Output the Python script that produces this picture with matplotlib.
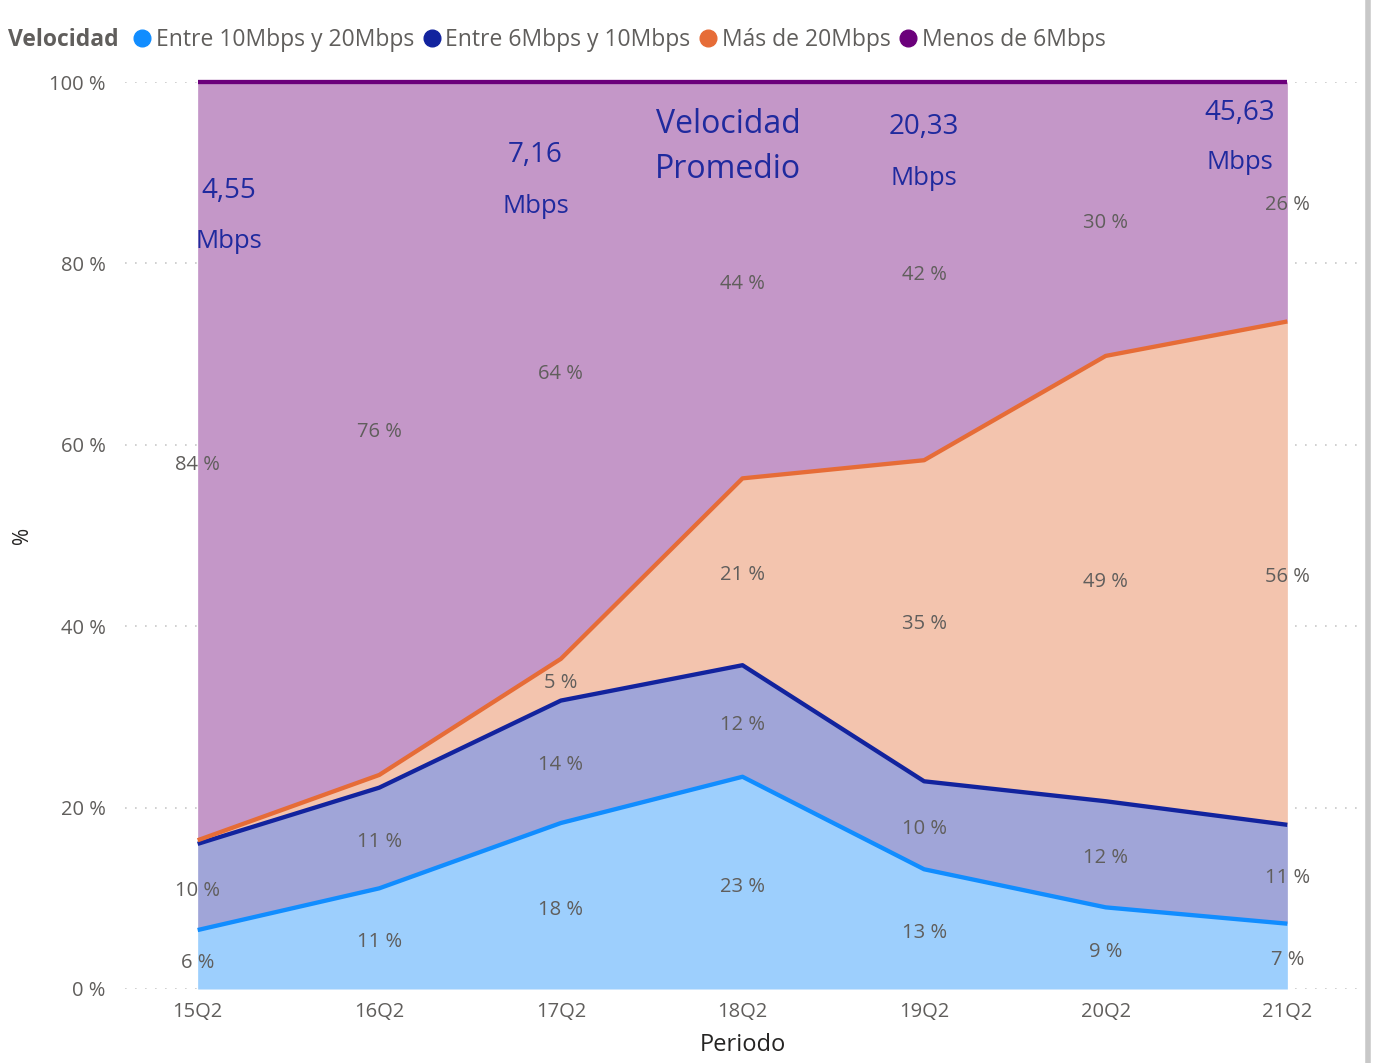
import numpy as np
import matplotlib.pyplot as plt
from matplotlib.lines import Line2D

# data (percent of connections per speed band)
periods = ["15Q2", "16Q2", "17Q2", "18Q2", "19Q2", "20Q2", "21Q2"]
entre_10_20 = [6.5, 11.1, 18.3, 23.4, 13.2, 9.0, 7.2]
entre_6_10 = [9.5, 11.1, 13.5, 12.3, 9.7, 11.7, 10.9]
mas_de_20 = [0.4, 1.4, 4.6, 20.6, 35.4, 49.1, 55.5]
menos_de_6 = [83.6, 76.4, 63.6, 43.7, 41.7, 30.2, 26.4]

series_names = ["Entre 10Mbps y 20Mbps", "Entre 6Mbps y 10Mbps", "Más de 20Mbps", "Menos de 6Mbps"]
line_colors = ["#118DFF", "#12239E", "#E66C37", "#6B007B"]
fill_colors = ["#9DCFFD", "#A0A5D8", "#F3C4AE", "#C497C8"]

# average speed notes (free text boxes on the original report)
speed_values = ["4,55", "7,16", "20,33", "45,63"]
speed_pos = [(0.17, 88.0, 82.4), (1.86, 92.0, 86.3), (4.0, 95.0, 89.4), (5.74, 96.6, 91.1)]

plt.rcParams['font.family'] = ['Open Sans', 'DejaVu Sans']

fig = plt.figure(figsize=(13.73, 10.63), dpi=100)
ax = fig.add_axes([125 / 1373, 1 - 989 / 1063, (1360 - 125) / 1373, (989 - 82) / 1063])

x = np.arange(len(periods))
stack = [entre_10_20, entre_6_10, mas_de_20, menos_de_6]
bottom = np.zeros(len(periods))
for vals, lc, fc in zip(stack, line_colors, fill_colors):
    vals = np.array(vals)
    top = bottom + vals
    ax.fill_between(x, bottom, top, color=fc, linewidth=0, zorder=2)
    bottom = top

bottom = np.zeros(len(periods))
for vals, lc in zip(stack, line_colors):
    top = bottom + np.array(vals)
    ax.plot(x, top, color=lc, linewidth=3.1, solid_capstyle='butt', zorder=3, clip_on=False)
    bottom = top

# data labels in the middle of each band
bottom = np.zeros(len(periods))
for vals in stack:
    vals = np.array(vals)
    for i, v in enumerate(vals):
        if v >= 3:
            ax.text(x[i], bottom[i] + v / 2 - 0.4, f"{round(v):.0f} %", ha='center', va='center',
                    fontsize=14.5, color='#605E5C', zorder=4)
    bottom = bottom + vals

# speed annotations
for val, (px, y1, y2) in zip(speed_values, speed_pos):
    ax.text(px, y1, val, ha='center', va='center', fontsize=20, color='#1F2A9E',
            fontweight='medium', zorder=5)
    ax.text(px, y2, "Mbps", ha='center', va='center', fontsize=18.5, color='#1F2A9E', zorder=5)
ax.text(2.92, 95.3, "Velocidad", ha='center', va='center', fontsize=23, color='#1F2A9E', zorder=5)
ax.text(2.92, 90.3, "Promedio", ha='center', va='center', fontsize=23, color='#1F2A9E', zorder=5)

ax.set_xlim(-0.4, 6.4)
ax.set_ylim(0, 100)
ax.set_xticks(x)
ax.set_xticklabels(periods)
ax.set_yticks([0, 20, 40, 60, 80, 100])
ax.set_yticklabels(["0 %", "20 %", "40 %", "60 %", "80 %", "100 %"])
ax.tick_params(length=0, labelsize=14.5, colors='#605E5C', pad=14)
ax.tick_params(axis='x', pad=9)
for s in ax.spines.values():
    s.set_visible(False)
ax.grid(axis='y', linestyle=(0, (1, 5)), color='#C8C8C8', linewidth=1.2, zorder=1)
ax.set_axisbelow(True)

ax.set_xlabel("Periodo", fontsize=17, color='#252423', labelpad=8)
fig.text(22 / 1373, 1 - 535 / 1063, "%", rotation=90, fontsize=15, color='#252423',
         ha='center', va='center')

# legend row
fig.text(8 / 1373, 1 - 40 / 1063, "Velocidad", fontsize=16.5, fontweight='bold', color='#605E5C',
         ha='left', va='center')
handles = [Line2D([], [], marker='o', linestyle='', markersize=12, color=c) for c in line_colors]
fig.legend(handles, series_names, loc='center left', bbox_to_anchor=(134 / 1373, 1 - 40 / 1063),
           ncol=4, frameon=False, fontsize=16.5, handletextpad=0.25, columnspacing=0.42,
           labelcolor='#605E5C', borderpad=0, borderaxespad=0, handlelength=0.7)

# report border shadow on the right
fig.add_artist(Line2D([1368 / 1373, 1368 / 1373], [0, 1], color='#C8C8C8', linewidth=4,
                      transform=fig.transFigure))

fig.savefig("out.png", dpi=100)
